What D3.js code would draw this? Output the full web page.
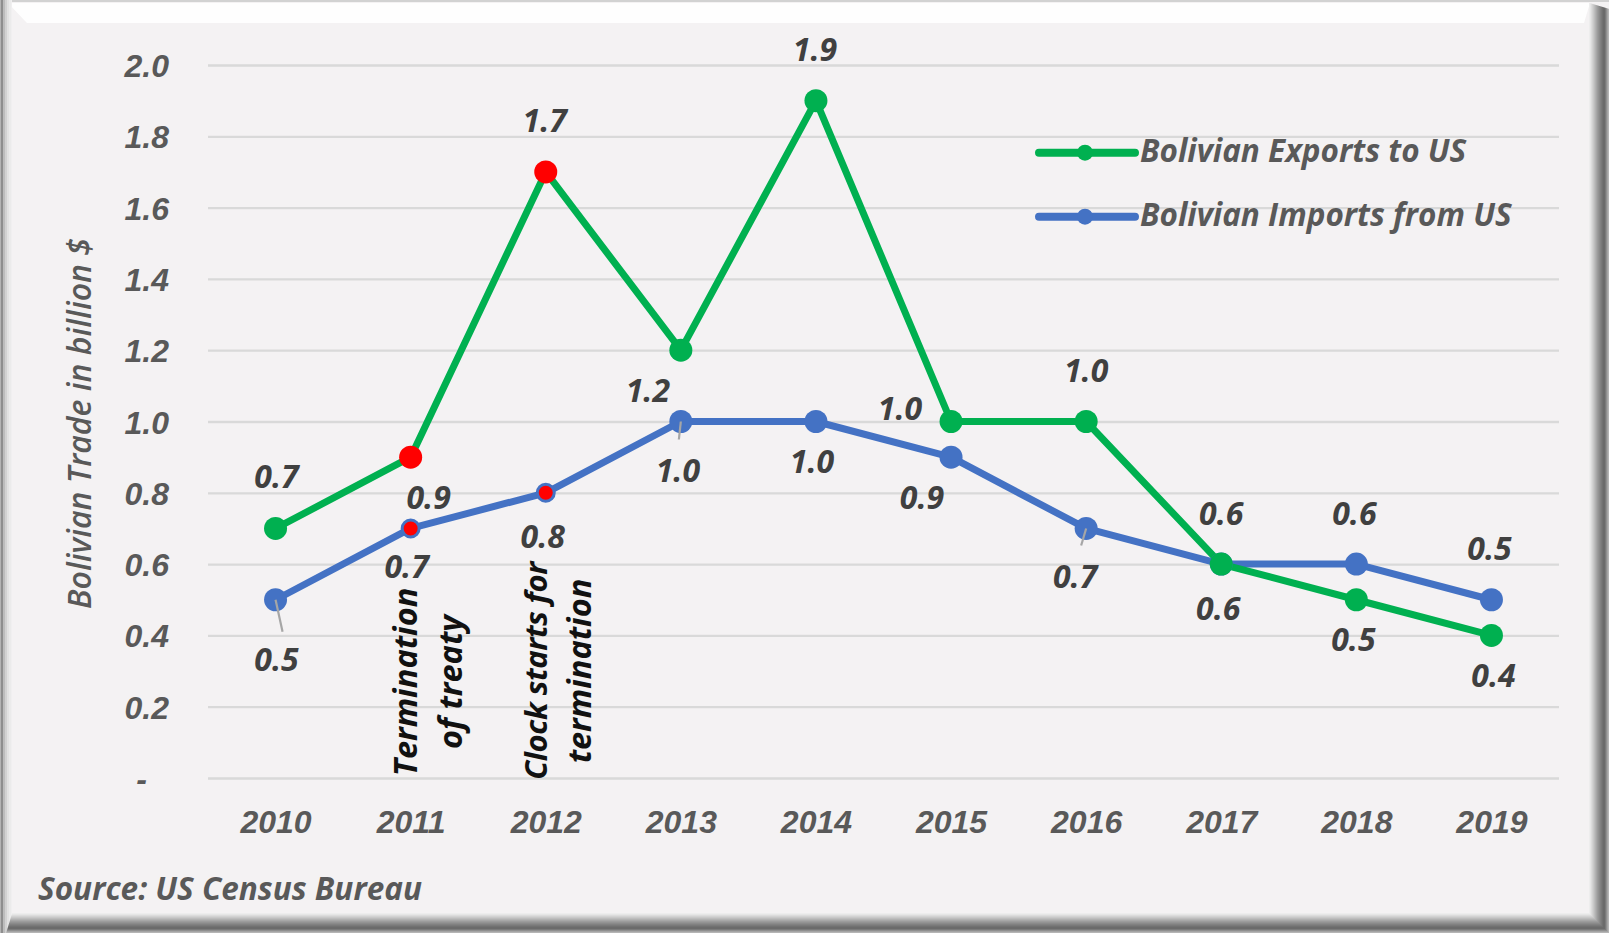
<!DOCTYPE html>
<html>
<head>
<meta charset="utf-8">
<script src="https://cdn.jsdelivr.net/npm/d3@7"></script>
<style>
  html, body { margin: 0; padding: 0; background: #ffffff; }
  svg { display: block; font-family: "Open Sans", Lato, sans-serif; font-style: italic; font-weight: 700; }
</style>
</head>
<body>
<div id="chart"></div>
<script>
// values
const years = [2010, 2011, 2012, 2013, 2014, 2015, 2016, 2017, 2018, 2019];
const exportsUS = [0.7, 0.9, 1.7, 1.2, 1.9, 1.0, 1.0, 0.6, 0.5, 0.4];
const importsUS = [0.5, 0.7, 0.8, 1.0, 1.0, 0.9, 0.7, 0.6, 0.6, 0.5];
const yTicks = [0, 0.2, 0.4, 0.6, 0.8, 1.0, 1.2, 1.4, 1.6, 1.8, 2.0];
const highlightYears = [2011, 2012];
const seriesNames = ["Bolivian Exports to US", "Bolivian Imports from US"];
const noteYears = [2011, 2012];
const noteLines = [["Termination", "of treaty"], ["Clock starts for", "termination"]];
const yTitle = "Bolivian Trade in billion $";
const sourceText = "Source: US Census Bureau";

// where Excel put each data label, relative to its point (dx, dy of the text centre)
const exportLabelPos = [[1, -52], [18, 40], [-1, -51], [-33, 40], [-1, -51], [-51, -13], [0, -51], [0, -51], [-3, 40], [2, 40]];
const importLabelPos = [[1, 60], [-4, 38], [-3, 44], [-3, 49], [-4, 40], [-29, 40], [-11, 48], [-3, 44], [-2, -51], [-2, -51]];
// leader lines (imports 2010, 2013, 2016)
const leaders = [[0, 7, 32], [3, -2, 18], [6, -5, 17]];

const W = 1609, H = 933;
const green = "#00b050", blue = "#4472c4", red = "#ff0000";
const fs = 32;

const svg = d3.select("#chart").append("svg")
  .attr("width", W)
  .attr("height", H);

// frame / background
svg.append("rect").attr("width", W).attr("height", H).attr("fill", "#f4f2f3");
svg.append("polygon")
  .attr("points", "8,3 1590,3 1584,23 27,23")
  .attr("fill", "#fefefe");
svg.append("rect").attr("x", 0).attr("y", 0).attr("width", W).attr("height", 2).attr("fill", "#d2d2d2");

const leftBands = ["#b4b4b4", "#8e8e8e", "#8e8e8e", "#bcbcbc", "#bcbcbc", "#d2d2d2", "#d2d2d2", "#e2e2e2", "#e2e2e2", "#ebebeb", "#ebebeb", "#f0eff0"];
leftBands.forEach((c, i) => {
  svg.append("rect").attr("x", i).attr("y", 0).attr("width", 1).attr("height", H).attr("fill", c);
});
const outerBands = ["#ededed", "#e6e6e6", "#dcdcdc", "#d2d2d2", "#c8c8c8", "#bdbdbd", "#b2b2b2", "#a7a7a7",
  "#9c9c9c", "#939393", "#8a8a8a", "#818181", "#797979", "#717171", "#6b6b6b", "#6b6b6b", "#7a7a7a", "#8f8f8f", "#a4a4a4", "#b5b5b5"];
const nb = outerBands.length;
outerBands.forEach((c, i) => {
  // right side
  svg.append("rect").attr("x", W - nb + i).attr("y", 3 + i * 0.3).attr("width", 1).attr("height", H - 3 - i * 0.3).attr("fill", c);
  // bottom side
  svg.append("rect").attr("x", 12 - i * 0.3).attr("y", H - nb + i).attr("width", W - nb + i - 12 + i * 0.3).attr("height", 1).attr("fill", c);
});

// scales
const x = d3.scalePoint()
  .domain(years)
  .range([208, 1559])
  .padding(0.5);

const y = d3.scaleLinear()
  .domain([0, 2])
  .range([778, 65]);

// y axis with gridlines
const yAxis = svg.append("g")
  .attr("transform", "translate(208,0)")
  .call(d3.axisLeft(y)
    .tickValues(yTicks)
    .tickSize(-(1559 - 208))
    .tickPadding(39)
    .tickFormat(d => d === 0 ? "-" : d3.format(".1f")(d)));
yAxis.select(".domain").remove();
yAxis.selectAll(".tick line").attr("stroke", "#d9d9d9").attr("stroke-width", 2.3);
yAxis.selectAll(".tick text")
  .attr("fill", "#595959")
  .style("font-size", fs + "px")
  .attr("dy", "0.36em")
  .attr("dx", d => d === 0 ? -22 : 0);

// x axis labels
const xAxis = svg.append("g")
  .attr("transform", "translate(0,778)")
  .call(d3.axisBottom(x).tickSize(0).tickPadding(43));
xAxis.select(".domain").remove();
xAxis.selectAll(".tick text")
  .attr("fill", "#595959")
  .attr("dy", "0.36em")
  .style("font-size", fs + "px");

// y axis title
svg.append("text")
  .attr("transform", `translate(91,${(65 + 778) / 2 + 2}) rotate(-90)`)
  .attr("text-anchor", "middle")
  .attr("fill", "#595959")
  .style("font-size", "32px")
  .style("font-weight", 600)
  .text(yTitle);

// lines
const line = d3.line()
  .x((d, i) => x(years[i]))
  .y(d => y(d));

svg.append("path")
  .datum(importsUS)
  .attr("fill", "none")
  .attr("stroke", blue)
  .attr("stroke-width", 7)
  .attr("stroke-linejoin", "round")
  .attr("d", line);

svg.append("path")
  .datum(exportsUS)
  .attr("fill", "none")
  .attr("stroke", green)
  .attr("stroke-width", 7)
  .attr("stroke-linejoin", "round")
  .attr("d", line);

// markers
svg.append("g").selectAll("circle")
  .data(importsUS)
  .join("circle")
  .attr("cx", (d, i) => x(years[i]))
  .attr("cy", d => y(d))
  .attr("r", (d, i) => highlightYears.includes(years[i]) ? 8.5 : 11.5)
  .attr("fill", (d, i) => highlightYears.includes(years[i]) ? red : blue)
  .attr("stroke", blue)
  .attr("stroke-width", (d, i) => highlightYears.includes(years[i]) ? 3 : 0);

svg.append("g").selectAll("circle")
  .data(exportsUS)
  .join("circle")
  .attr("cx", (d, i) => x(years[i]))
  .attr("cy", d => y(d))
  .attr("r", 11.5)
  .attr("fill", (d, i) => highlightYears.includes(years[i]) ? red : green);

// leader lines
leaders.forEach(([i, ex, ey]) => {
  const px = x(years[i]), py = y(importsUS[i]);
  svg.append("line")
    .attr("x1", px).attr("y1", py)
    .attr("x2", px + ex).attr("y2", py + ey)
    .attr("stroke", "#a6a6a6")
    .attr("stroke-width", 2.2);
});

// data labels
function addLabels(values, pos) {
  svg.append("g").selectAll("text")
    .data(values)
    .join("text")
    .attr("x", (d, i) => x(years[i]) + pos[i][0])
    .attr("y", (d, i) => y(d) + pos[i][1])
    .attr("dy", "0.36em")
    .attr("text-anchor", "middle")
    .attr("fill", "#404040")
    .style("font-size", fs + "px")
    .text(d => d3.format(".1f")(d));
}
addLabels(exportsUS, exportLabelPos);
addLabels(importsUS, importLabelPos);

// rotated notes
const noteShift = [[6, 51], [1, 45]];
const noteMid = [682, 671];
const noteSize = [[32.5, 32.5], [31, 32.5]];
noteYears.forEach((yr, k) => {
  noteLines[k].forEach((txt, j) => {
    svg.append("text")
      .attr("transform", `translate(${x(yr) + noteShift[k][j]},${noteMid[k]}) rotate(-90)`)
      .attr("text-anchor", "middle")
      .attr("fill", "#111111")
      .style("font-size", noteSize[k][j] + "px")
      .style("letter-spacing", k === 1 && j === 0 ? "-0.4px" : null)
      .text(txt);
  });
});

// legend
const legendColors = [green, blue];
const legendY = [152.7, 216.7];
seriesNames.forEach((name, i) => {
  const g = svg.append("g").attr("transform", `translate(1039,${legendY[i]})`);
  g.append("line")
    .attr("x1", 0).attr("x2", 96)
    .attr("stroke", legendColors[i])
    .attr("stroke-width", 8)
    .attr("stroke-linecap", "round");
  g.append("circle")
    .attr("cx", 46).attr("r", 8)
    .attr("fill", legendColors[i]);
  g.append("text")
    .attr("x", 101)
    .attr("y", 9)
    .attr("fill", "#595959")
    .style("font-size", "31.5px")
    .text(name);
});

// source
svg.append("text")
  .attr("x", 38)
  .attr("y", 900)
  .attr("fill", "#595959")
  .style("font-size", "31.5px")
  .text(sourceText);
</script>
</body>
</html>
